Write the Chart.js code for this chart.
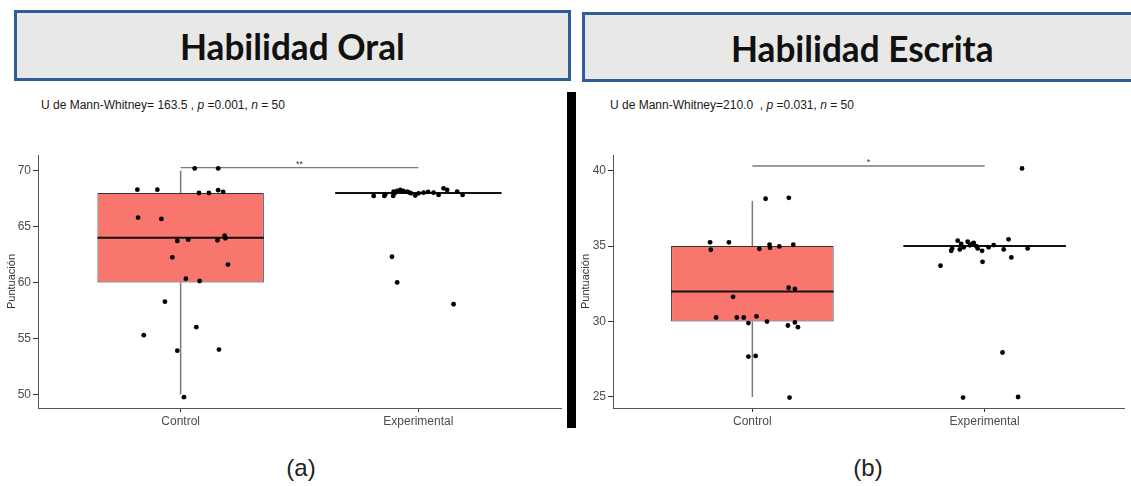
<!DOCTYPE html>
<html><head><meta charset="utf-8">
<script src="https://cdn.jsdelivr.net/npm/chart.js@4"></script>
<style>
body{margin:0;width:1131px;height:486px;background:#fff;position:relative;overflow:hidden;font-family:"Liberation Sans",Arial,sans-serif;}
.hdr{position:absolute;box-sizing:border-box;border:3px solid #2f5d9b;background:#e8e9e7;display:flex;align-items:center;justify-content:center;font-family:Lato,"Open Sans",sans-serif;font-weight:700;font-size:37px;color:#111;}
.hdr span{display:inline-block;transform:scaleX(0.95);}
.sub{position:absolute;font-size:12px;color:#1a1a1a;white-space:pre;line-height:14px;}
.cap{position:absolute;font-size:24px;color:#222;width:80px;text-align:center;line-height:28px;}
#sep{position:absolute;left:567px;top:92px;width:9px;height:336px;background:#000;}
canvas{position:absolute;}
</style></head><body>
<div class="hdr" style="left:14px;top:10px;width:557px;height:71px"><span>Habilidad Oral</span></div>
<div class="hdr" style="left:582px;top:12px;width:560px;height:70px"><span>Habilidad Escrita</span></div>
<div class="sub" style="left:41px;top:98px">U de Mann-Whitney= 163.5 , <i>p</i> =0.001, <i>n</i> = 50</div>
<div class="sub" style="left:610px;top:98px">U de Mann-Whitney=210.0  , <i>p</i> =0.031, <i>n</i> = 50</div>
<div id="sep"></div>
<canvas id="cA" width="566" height="285" style="left:0px;top:150px"></canvas>
<canvas id="cB" width="554" height="285" style="left:577px;top:150px"></canvas>
<div class="cap" style="left:261px;top:454px">(a)</div>
<div class="cap" style="left:828px;top:454px">(b)</div>
<script>
// ---------- shared ----------
const categories = ['Control', 'Experimental'];
const xTickValues = [1, 2];

// ---------- Panel (a): Habilidad Oral ----------
const oralYTicks = [50, 55, 60, 65, 70];
const oralQ1 = [60, 68];
const oralMedian = [64, 68];
const oralQ3 = [68, 68];
const oralWhiskerLow = [50, 68];
const oralWhiskerHigh = [70, 68];
const oralBracket = 70.27;
const oralSig = '**';
const oralControlScores = [68.3, 68.3, 70.2, 70.2, 68.0, 68.0, 68.25, 68.1, 65.8, 65.68, 63.71, 63.83, 63.77, 64.19, 63.95, 62.25, 61.6, 60.34, 60.13, 58.28, 55.28, 56.0, 53.9, 54.0, 49.74];
const oralControlJitter = [-0.182, -0.098, 0.059, 0.158, 0.077, 0.119, 0.158, 0.179, -0.179, -0.081, -0.014, 0.032, 0.155, 0.185, 0.188, -0.035, 0.199, 0.022, 0.080, -0.066, -0.155, 0.066, -0.014, 0.161, 0.014];
const oralExpScores = [67.74, 67.74, 67.9, 67.74, 68.12, 67.97, 68.2, 68.27, 68.2, 68.12, 68.03, 67.97, 67.77, 67.97, 68.03, 68.1, 68.03, 67.83, 68.42, 68.27, 68.12, 67.83, 62.3, 60.0, 58.05];
const oralExpJitter = [-0.188, -0.143, -0.139, -0.106, -0.104, -0.100, -0.089, -0.076, -0.064, -0.047, -0.037, -0.031, -0.013, 0.001, 0.022, 0.041, 0.064, 0.085, 0.106, 0.121, 0.163, 0.186, -0.111, -0.089, 0.148];

// ---------- Panel (b): Habilidad Escrita ----------
const escYTicks = [25, 30, 35, 40];
const escQ1 = [30, 35];
const escMedian = [32, 35];
const escQ3 = [35, 35];
const escWhiskerLow = [25, 35];
const escWhiskerHigh = [38, 35];
const escBracket = 40.31;
const escSig = '*';
const escControlScores = [38.14, 38.2, 35.25, 35.25, 34.76, 34.82, 35.1, 34.9, 34.98, 35.09, 31.64, 32.24, 32.17, 30.27, 30.27, 30.27, 30.34, 29.9, 30.0, 29.74, 29.94, 29.63, 27.68, 27.72, 24.96];
const escControlJitter = [0.057, 0.157, -0.182, -0.101, -0.179, 0.030, 0.074, 0.076, 0.116, 0.176, -0.083, 0.156, 0.183, -0.156, -0.067, -0.037, 0.018, -0.017, 0.063, 0.153, 0.183, 0.196, -0.017, 0.014, 0.160];
const escExpScores = [34.69, 34.85, 35.36, 34.78, 35.14, 34.92, 35.29, 35.14, 35.22, 35.0, 34.85, 34.69, 34.92, 35.07, 34.78, 35.45, 34.85, 34.25, 33.7, 33.96, 40.15, 27.95, 24.96, 25.0, 35.05];
const escExpJitter = [-0.144, -0.140, -0.116, -0.107, -0.101, -0.090, -0.073, -0.054, -0.047, -0.036, -0.030, -0.011, 0.017, 0.039, 0.082, 0.103, 0.185, 0.115, -0.190, -0.009, 0.161, 0.077, -0.093, 0.144, -0.063];

// ---------- drawing ----------
const FONT = '"Liberation Sans", Arial, sans-serif';
const BOX_HALF = 0.35;

const sigPlugin = {
  id: 'sig',
  afterDatasetsDraw(chart, args, o) {
    const {ctx, scales: {x, y}} = chart;
    ctx.save();
    ctx.font = '9px ' + FONT;
    ctx.fillStyle = '#333';
    ctx.textAlign = 'center';
    ctx.textBaseline = 'bottom';
    ctx.fillText(o.label, x.getPixelForValue((xTickValues[0] + xTickValues[1]) / 2), y.getPixelForValue(o.y) + 1);
    ctx.restore();
  }
};

function seg(x1, y1, x2, y2, color, width) {
  return {type: 'line', data: [{x: x1, y: y1}, {x: x2, y: y2}], borderColor: color, borderWidth: width,
    pointRadius: 0, fill: false, tension: 0, showLine: true, clip: false};
}

function makePanel(id, p) {
  const points = [];
  p.cScores.forEach((v, i) => points.push({x: xTickValues[0] + p.cJit[i], y: v}));
  p.eScores.forEach((v, i) => points.push({x: xTickValues[1] + p.eJit[i], y: v}));
  const datasets = [];
  datasets.push({type: 'scatter', data: points, pointRadius: 2.4, pointBackgroundColor: '#000', pointBorderWidth: 0, clip: false});
  datasets.push(seg(xTickValues[0], p.bracket, xTickValues[1], p.bracket, '#7a7a7a', 1.3));
  xTickValues.forEach((xv, i) => {
    datasets.push(seg(xv - BOX_HALF, p.median[i], xv + BOX_HALF, p.median[i], '#111', 2));
  });
  datasets.push({type: 'bar', data: xTickValues.map((xv, i) => ({x: xv, y: [p.q1[i], p.q3[i]]})),
    backgroundColor: '#F8766D', borderColor: '#333', borderWidth: 1, borderSkipped: false,
    barPercentage: 0.7, categoryPercentage: 1.0, grouped: false});
  xTickValues.forEach((xv, i) => {
    datasets.push(seg(xv, p.lo[i], xv, p.q1[i], '#7a7a7a', 1.5));
    datasets.push(seg(xv, p.q3[i], xv, p.hi[i], '#7a7a7a', 1.5));
  });
  return new Chart(document.getElementById(id), {
    type: 'scatter',
    data: {datasets},
    plugins: [sigPlugin],
    options: {
      responsive: false, animation: false,
      layout: {autoPadding: false, padding: {left: 0, right: p.padRight, top: 5, bottom: 0}},
      plugins: {legend: {display: false}, tooltip: {enabled: false}, sig: {label: p.sig, y: p.bracket}},
      scales: {
        x: {
          type: 'linear', min: 0.4, max: 2.6, offset: false,
          afterBuildTicks: s => { s.ticks = xTickValues.map(v => ({value: v})); },
          afterFit: s => { s.height = 27; },
          ticks: {callback: v => categories[Math.round(v) - 1], color: '#4d4d4d', font: {size: 12, family: FONT}, padding: 2, autoSkip: false, maxRotation: 0},
          grid: {display: true, offset: false, drawOnChartArea: false, drawTicks: true, tickLength: 4, color: '#333'},
          border: {display: true, color: '#555', width: 1}
        },
        y: {
          type: 'linear', min: p.ymin, max: p.ymax,
          afterBuildTicks: s => { s.ticks = p.yTicks.map(v => ({value: v})); },
          afterFit: s => { s.width = p.yWidth; s.paddingTop = 0; s.paddingBottom = 0; },
          title: {display: true, text: 'Puntuación', color: '#333', font: {size: 11, family: FONT}, padding: {top: p.titlePad, bottom: 0}},
          ticks: {color: '#4d4d4d', font: {size: 12, family: FONT}, padding: 2},
          grid: {display: true, drawOnChartArea: false, drawTicks: true, tickLength: 5, color: '#333'},
          border: {display: true, color: '#555', width: 1}
        }
      }
    }
  });
}

makePanel('cA', {
  cScores: oralControlScores, cJit: oralControlJitter, eScores: oralExpScores, eJit: oralExpJitter,
  q1: oralQ1, median: oralMedian, q3: oralQ3, lo: oralWhiskerLow, hi: oralWhiskerHigh,
  bracket: oralBracket, sig: oralSig, yTicks: oralYTicks, ymin: 48.77, ymax: 71.4,
  yWidth: 38, padRight: 5, titlePad: 5
});
makePanel('cB', {
  cScores: escControlScores, cJit: escControlJitter, eScores: escExpScores, eJit: escExpJitter,
  q1: escQ1, median: escMedian, q3: escQ3, lo: escWhiskerLow, hi: escWhiskerHigh,
  bracket: escBracket, sig: escSig, yTicks: escYTicks, ymin: 24.27, ymax: 41.04,
  yWidth: 36, padRight: 7, titlePad: 2
});
</script>
</body></html>
